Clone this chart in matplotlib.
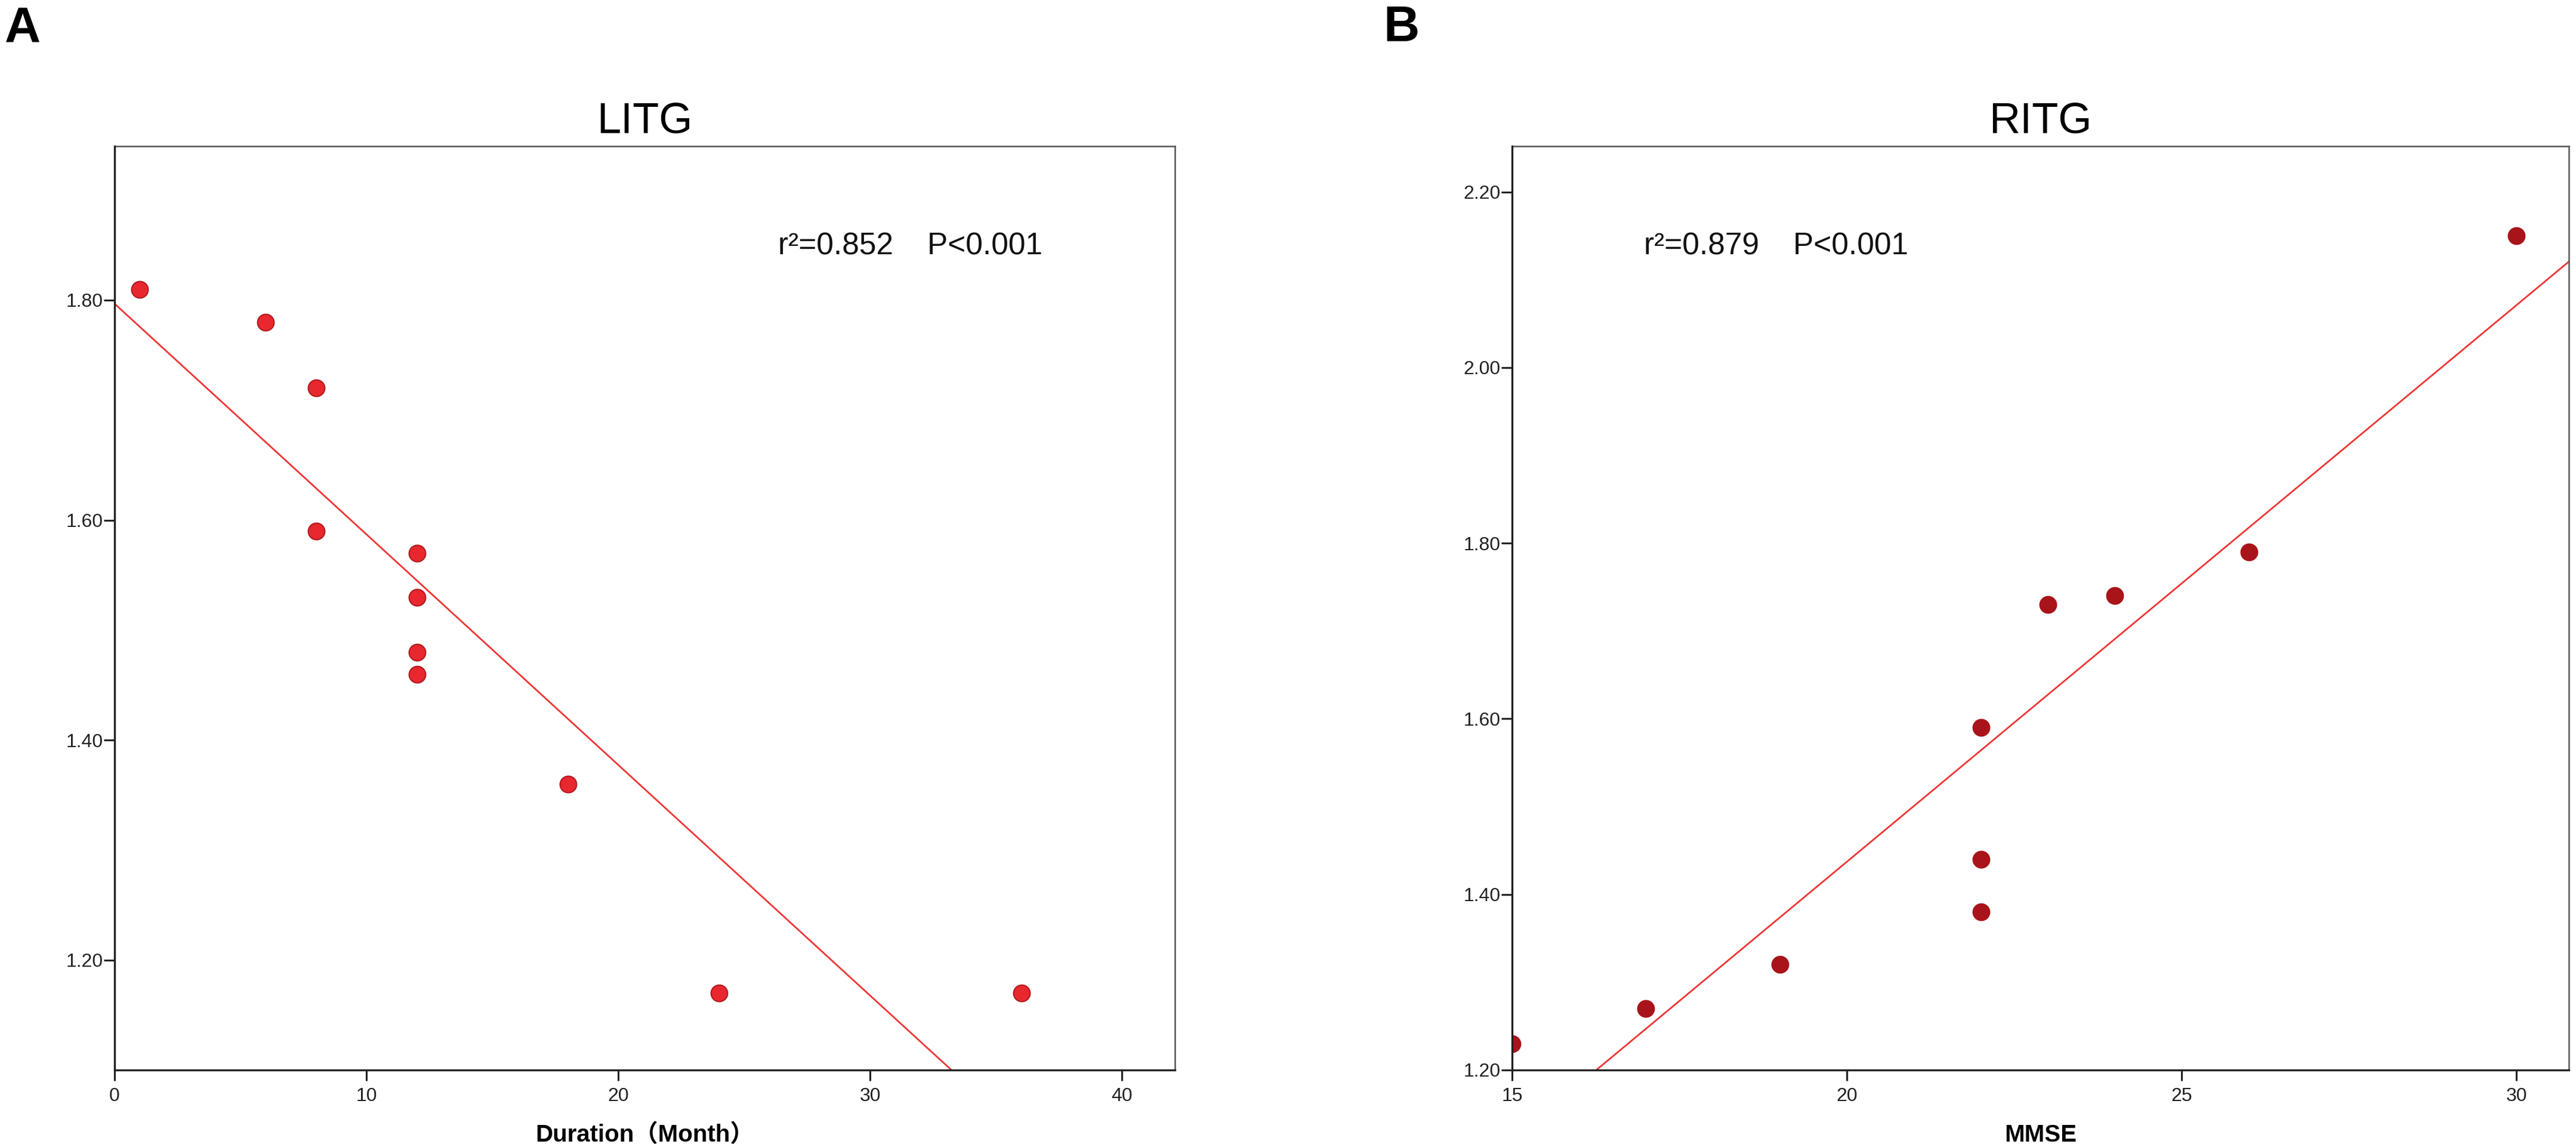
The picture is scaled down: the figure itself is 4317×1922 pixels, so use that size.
import numpy as np
import matplotlib
matplotlib.use("Agg")
import matplotlib.pyplot as plt

plt.rcParams['font.family'] = ['Liberation Sans', 'Noto Sans CJK SC', 'DejaVu Sans']

# ---- Data ----
litg_duration = [1, 6, 8, 8, 12, 12, 12, 12, 18, 24, 36]
litg_values = [1.81, 1.78, 1.72, 1.59, 1.57, 1.53, 1.48, 1.46, 1.36, 1.17, 1.17]

ritg_mmse = [15, 17, 19, 22, 22, 22, 23, 24, 26, 30]
ritg_values = [1.23, 1.27, 1.32, 1.59, 1.44, 1.38, 1.73, 1.74, 1.79, 2.15]

titles = ["LITG", "RITG"]
xlabels = ["Duration（Month）", "MMSE"]
stats_text = ["r²=0.852    P<0.001", "r²=0.879    P<0.001"]
panel_letters = ["A", "B"]

a_xticks = [0, 10, 20, 30, 40]
a_yticks = [1.20, 1.40, 1.60, 1.80]
b_xticks = [15, 20, 25, 30]
b_yticks = [1.20, 1.40, 1.60, 1.80, 2.00, 2.20]

# ---- Figure ----
W, H, DPI = 4317, 1922, 100
fig = plt.figure(figsize=(W / DPI, H / DPI), dpi=DPI)
fig.patch.set_facecolor('white')

axA = fig.add_axes([192 / W, 1 - 1793 / H, (1969 - 192) / W, (1793 - 245) / H])
axB = fig.add_axes([2534 / W, 1 - 1793 / H, (4305 - 2534) / W, (1793 - 245) / H])

configs = [
    dict(ax=axA, x=litg_duration, y=litg_values, xlim=(0, 42.1), ylim=(1.10, 1.94),
         xt=a_xticks, yt=a_yticks, face='#e8282e', edge='#b01a1f', text_x=0.626),
    dict(ax=axB, x=ritg_mmse, y=ritg_values, xlim=(15, 30.78), ylim=(1.20, 2.252),
         xt=b_xticks, yt=b_yticks, face='#a8141a', edge='#a8141a', text_x=0.125),
]

for i, c in enumerate(configs):
    ax = c['ax']
    ax.set_xlim(*c['xlim'])
    ax.set_ylim(*c['ylim'])

    # regression line from the data
    slope, intercept = np.polyfit(c['x'], c['y'], 1)
    xs = np.array(c['xlim'])
    ax.plot(xs, intercept + slope * xs, color='#ee3333', linewidth=2.0, zorder=2)

    ax.scatter(c['x'], c['y'], s=400, facecolor=c['face'], edgecolor=c['edge'],
               linewidth=1.5, zorder=3, clip_on=True)

    ax.set_xticks(c['xt'])
    ax.set_xticklabels([str(v) for v in c['xt']])
    ax.set_yticks(c['yt'])
    ax.set_yticklabels([f"{v:.2f}" for v in c['yt']])
    ax.tick_params(axis='both', direction='out', length=13, width=2.2,
                   labelsize=23, colors='#222222')
    ax.tick_params(axis='x', pad=8)
    ax.tick_params(axis='y', pad=1)

    for side in ['left', 'bottom']:
        ax.spines[side].set_linewidth(2.4)
        ax.spines[side].set_color('#222222')
        ax.spines[side].set_zorder(4)
    for side in ['top', 'right']:
        ax.spines[side].set_linewidth(1.8)
        ax.spines[side].set_color('#555555')

    ax.set_title(titles[i], fontsize=52, pad=16)
    ax.set_xlabel(xlabels[i], fontsize=29, fontweight='bold', labelpad=22)

    ax.text(c['text_x'], 0.8825, stats_text[i], transform=ax.transAxes,
            fontsize=37, ha='left', va='baseline', color='#111111')

# panel letters
fig.text(8 / W, 1 - 71 / H, panel_letters[0], fontsize=60, fontweight='bold',
         ha='left', va='baseline')
fig.text(2318 / W, 1 - 69 / H, panel_letters[1], fontsize=60, fontweight='bold',
         ha='left', va='baseline')

fig.savefig("out.png", dpi=DPI, facecolor='white')
